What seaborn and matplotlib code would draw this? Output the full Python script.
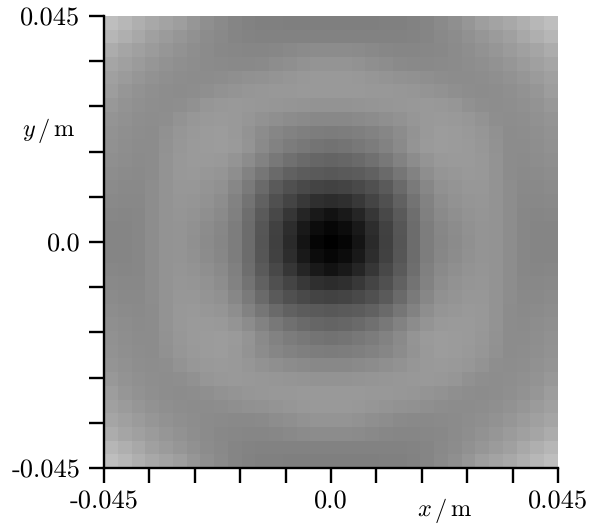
import numpy as np
import matplotlib
matplotlib.use('Agg')
import matplotlib.pyplot as plt
import seaborn as sns

# grey level of upper left quarter, row 0 = top, last row/col = centre
quarter = [
    [190, 183, 175, 168, 163, 158, 150, 143, 138, 133, 130, 128, 128, 127, 127, 127, 127],
    [182, 175, 168, 160, 155, 150, 145, 140, 137, 133, 131, 130, 130, 130, 130, 130, 130],
    [172, 165, 160, 155, 150, 146, 142, 139, 136, 135, 134, 134, 135, 137, 139, 140, 140],
    [165, 160, 155, 150, 146, 143, 141, 139, 138, 137, 137, 138, 141, 143, 146, 148, 148],
    [160, 155, 150, 146, 143, 141, 140, 140, 141, 143, 145, 146, 148, 150, 152, 153, 153],
    [157, 150, 146, 143, 141, 140, 141, 143, 146, 148, 150, 151, 152, 152, 153, 153, 153],
    [152, 147, 144, 142, 141, 142, 145, 150, 152, 153, 152, 151, 150, 149, 148, 147, 147],
    [148, 145, 142, 141, 142, 147, 151, 153, 154, 153, 150, 146, 143, 140, 138, 136, 136],
    [146, 143, 141, 140, 145, 150, 153, 155, 156, 153, 147, 140, 134, 130, 127, 125, 124],
    [145, 142, 140, 140, 146, 151, 154, 155, 156, 154, 148, 138, 130, 124, 120, 116, 114],
    [143, 141, 139, 140, 147, 152, 154, 154, 153, 148, 140, 130, 120, 112, 106, 102, 100],
    [141, 139, 138, 140, 147, 152, 153, 151, 149, 142, 130, 118, 106, 97, 92, 90, 88],
    [139, 137, 137, 141, 147, 151, 151, 148, 145, 135, 122, 106, 90, 80, 73, 68, 66],
    [137, 136, 136, 141, 147, 150, 149, 146, 141, 130, 115, 97, 80, 68, 56, 47, 44],
    [135, 134, 135, 141, 147, 149, 147, 143, 138, 128, 110, 90, 72, 54, 37, 25, 18],
    [133, 133, 135, 141, 147, 148, 145, 140, 135, 125, 108, 86, 65, 45, 25, 12, 6],
    [133, 133, 135, 141, 147, 148, 144, 139, 134, 125, 108, 85, 64, 42, 20, 5, 0],
]
tick_values = [-0.045, -0.036, -0.027, -0.018, -0.009, 0.0, 0.009, 0.018, 0.027, 0.036, 0.045]
tick_labels = ['-0.045', '', '', '', '', '0.0', '', '', '', '', '0.045']
extent = 0.045

plt.rcParams['font.family'] = ['cmr10', 'DejaVu Sans']
plt.rcParams['mathtext.fontset'] = 'cm'
plt.rcParams['axes.unicode_minus'] = False
plt.rcParams['text.hinting'] = 'no_hinting'
plt.rcParams['text.hinting_factor'] = 1


def main():
    # the field is symmetric, so mirror the quarter
    top = np.array(quarter)
    top = np.hstack([top, top[:, -2::-1]])
    grid = np.vstack([top, top[-2::-1]])
    n = grid.shape[0]

    fig = plt.figure(figsize=(5.9, 5.25), dpi=100)
    ax = fig.add_axes([104 / 590, 1 - 468 / 525, 454 / 590, 452 / 525])
    sns.heatmap(grid, cmap='gray', vmin=0, vmax=255, cbar=False, ax=ax,
                xticklabels=False, yticklabels=False, rasterized=True)

    pos = [(v + extent) / (2 * extent) * n for v in tick_values]
    ax.set_xticks(pos)
    ax.set_xticklabels(tick_labels, fontsize=19)
    ax.set_yticks(pos)
    ax.set_yticklabels(tick_labels[::-1], fontsize=19)
    ax.tick_params(axis='x', length=11, width=1.7, color='black', pad=5)
    ax.tick_params(axis='y', length=11, width=1.7, color='black', pad=6)

    for name in ['top', 'right']:
        ax.spines[name].set_visible(False)
    for name in ['left', 'bottom']:
        ax.spines[name].set_visible(True)
        ax.spines[name].set_linewidth(1.7)

    fig.text(49 / 590, 1 - 131 / 525, r'$y\,/\,\mathrm{m}$', fontsize=17.5, ha='center', va='center')
    fig.text(444 / 590, 1 - 511 / 525, r'$x\,/\,\mathrm{m}$', fontsize=17.5, ha='center', va='center')

    fig.savefig('out.png', dpi=100)


if __name__ == "__main__":
    main()
